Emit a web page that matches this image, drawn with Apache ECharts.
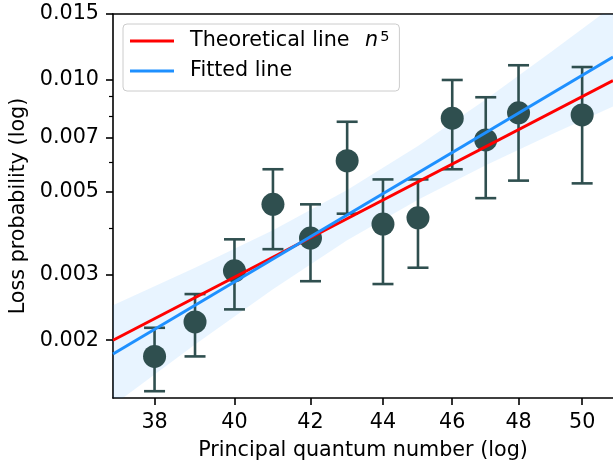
<!DOCTYPE html>
<html>
<head>
<meta charset="utf-8">
<script src="https://cdn.jsdelivr.net/npm/echarts@6/dist/echarts.min.js"></script>
<style>
  html, body { margin: 0; padding: 0; background: #fff; }
  #main { width: 613px; height: 461px; }
</style>
</head>
<body>
<div id="main"></div>
<script>
var nVals = [38, 39, 40, 41, 42, 43, 44, 45, 46, 47, 48, 50];
var probVals = [0.00181, 0.00224, 0.00307, 0.00463, 0.00376, 0.00606, 0.00410, 0.00426, 0.00788, 0.00689, 0.00815, 0.00804];
var errHigh = [0.00216, 0.00266, 0.00373, 0.00575, 0.00463, 0.00771, 0.00540, 0.00540, 0.00998, 0.00897, 0.01093, 0.01081];
var errLow = [0.00146, 0.00181, 0.00242, 0.00351, 0.00288, 0.00437, 0.00283, 0.00313, 0.00575, 0.00481, 0.00536, 0.00527];

// lines: end points [n, prob]
var theoryLine = [[37, 0.00200], [51, 0.00995]];
var fitLine = [[37, 0.001837], [51, 0.01150]];

// confidence band of the fit
var bandN = [37, 39, 41, 43, 45, 47, 49, 51];
var bandUpper = [0.002484, 0.003129, 0.003948, 0.005055, 0.006633, 0.008852, 0.01184, 0.01576];
var bandLower = [0.001338, 0.001947, 0.002742, 0.003707, 0.004764, 0.005895, 0.007118, 0.008477];

// axes
var xTicks = [38, 40, 42, 44, 46, 48, 50];
var yTicks = [0.002, 0.003, 0.005, 0.007, 0.010, 0.015];
var yMinorTicks = [0.004, 0.006, 0.008, 0.009];
var xRange = [37, 51];
var yRange = [0.0014, 0.015];

var lg = Math.log10;
var FONT = 'DejaVu Sans';
var FS = 20.7;
var INK = '#2f4f4f';

var chart = echarts.init(document.getElementById('main'));

function toLog(pts) {
  return pts.map(function (p) { return [lg(p[0]), lg(p[1])]; });
}

var option = {
  animation: false,
  backgroundColor: '#fff',
  textStyle: { fontFamily: FONT },
  grid: { left: 113, right: 0, top: 14, bottom: 63, containLabel: false, outerBoundsMode: 'none' },
  legend: {
    left: 123,
    top: 24,
    orient: 'vertical',
    itemWidth: 44,
    itemHeight: 3,
    itemGap: 8,
    padding: [6, 10, 9, 7],
    backgroundColor: 'rgba(255,255,255,0.8)',
    borderColor: '#cccccc',
    borderWidth: 1,
    borderRadius: 4,
    data: [
      { name: 'theory', icon: 'rect' },
      { name: 'fit', icon: 'rect' }
    ],
    formatter: function (name) {
      return name === 'theory' ? 'Theoretical line {i|n}{s|5}' : 'Fitted line';
    },
    textStyle: {
      fontFamily: FONT,
      fontSize: FS,
      color: '#000',
      lineHeight: 22,
      padding: [0, 0, 0, 11],
      rich: {
        i: { fontFamily: FONT, fontSize: FS, fontStyle: 'italic', color: '#000', lineHeight: 22, padding: [0, 0, 0, 9] },
        s: { fontFamily: FONT, fontSize: 14.5, color: '#000', verticalAlign: 'top', lineHeight: 12, padding: [0, 0, 0, 2] }
      }
    }
  },
  xAxis: [{
    type: 'value',
    min: lg(xRange[0]),
    max: lg(xRange[1]),
    name: 'Principal quantum number (log)',
    nameLocation: 'middle',
    nameGap: 42,
    nameTextStyle: { fontFamily: FONT, fontSize: FS, color: '#000' },
    axisLine: { show: true, onZero: false, lineStyle: { color: '#000', width: 1.6 } },
    axisTick: { show: true, length: 7, lineStyle: { color: '#000', width: 1.6 }, customValues: xTicks.map(lg) },
    axisLabel: {
      fontFamily: FONT, fontSize: FS, color: '#000', margin: 14,
      customValues: xTicks.map(lg),
      formatter: function (v) { return String(Math.round(Math.pow(10, v))); }
    },
    splitLine: { show: false }
  }, {
    type: 'value',
    position: 'top',
    min: lg(xRange[0]),
    max: lg(xRange[1]),
    axisLine: { show: true, onZero: false, lineStyle: { color: '#000', width: 1.6 } },
    axisTick: { show: false },
    axisLabel: { show: false },
    splitLine: { show: false }
  }],
  yAxis: [{
    type: 'value',
    position: 'left',
    min: lg(yRange[0]),
    max: lg(yRange[1]),
    name: 'Loss probability (log)',
    nameLocation: 'middle',
    nameGap: 79,
    nameTextStyle: { fontFamily: FONT, fontSize: FS, color: '#000' },
    axisLine: { show: true, onZero: false, lineStyle: { color: '#000', width: 1.6 } },
    axisTick: { show: true, length: 7, lineStyle: { color: '#000', width: 1.6 }, customValues: yTicks.map(lg) },
    axisLabel: {
      fontFamily: FONT, fontSize: FS, color: '#000', margin: 14,
      customValues: yTicks.map(lg),
      formatter: function (v) { return Math.pow(10, v).toFixed(3); }
    },
    splitLine: { show: false }
  }, {
    // minor ticks only
    type: 'value',
    position: 'left',
    min: lg(yRange[0]),
    max: lg(yRange[1]),
    axisLine: { show: false },
    axisTick: { show: true, length: 4, lineStyle: { color: '#000', width: 1.2 }, customValues: yMinorTicks.map(lg) },
    axisLabel: { show: false },
    splitLine: { show: false }
  }],
  series: [{
    name: 'band',
    type: 'custom',
    clip: true,
    silent: true,
    data: bandN.map(function (n, i) { return [lg(n), lg(bandLower[i]), lg(bandUpper[i])]; }),
    encode: { x: 0, y: [1, 2] },
    renderItem: function (params, api) {
      if (params.dataIndex !== 0) return;
      var pts = [];
      for (var i = 0; i < bandN.length; i++) {
        pts.push(api.coord([lg(bandN[i]), lg(bandUpper[i])]));
      }
      for (var j = bandN.length - 1; j >= 0; j--) {
        pts.push(api.coord([lg(bandN[j]), lg(bandLower[j])]));
      }
      return {
        type: 'polygon',
        shape: { points: pts },
        style: { fill: 'rgba(30,144,255,0.1)' }
      };
    }
  }, {
    name: 'theory',
    type: 'line',
    data: toLog(theoryLine),
    showSymbol: false,
    color: '#ff0000',
    lineStyle: { color: '#ff0000', width: 3 }
  }, {
    name: 'fit',
    type: 'line',
    data: toLog(fitLine),
    showSymbol: false,
    color: '#1e90ff',
    lineStyle: { color: '#1e90ff', width: 3 }
  }, {
    name: 'errors',
    type: 'custom',
    data: nVals.map(function (n, i) { return [lg(n), lg(errLow[i]), lg(errHigh[i])]; }),
    encode: { x: 0, y: [1, 2] },
    renderItem: function (params, api) {
      var x = api.value(0);
      var lo = api.coord([x, api.value(1)]);
      var hi = api.coord([x, api.value(2)]);
      var half = 10.5;
      var st = { stroke: INK, lineWidth: 2.6 };
      return {
        type: 'group',
        children: [
          { type: 'line', shape: { x1: lo[0], y1: lo[1], x2: hi[0], y2: hi[1] }, style: st },
          { type: 'line', shape: { x1: lo[0] - half, y1: lo[1], x2: lo[0] + half, y2: lo[1] }, style: st },
          { type: 'line', shape: { x1: hi[0] - half, y1: hi[1], x2: hi[0] + half, y2: hi[1] }, style: st }
        ]
      };
    }
  }, {
    name: 'points',
    type: 'scatter',
    symbol: 'circle',
    symbolSize: 23,
    itemStyle: { color: INK, opacity: 1 },
    data: nVals.map(function (n, i) { return [lg(n), lg(probVals[i])]; })
  }]
};

chart.setOption(option);
</script>
</body>
</html>
